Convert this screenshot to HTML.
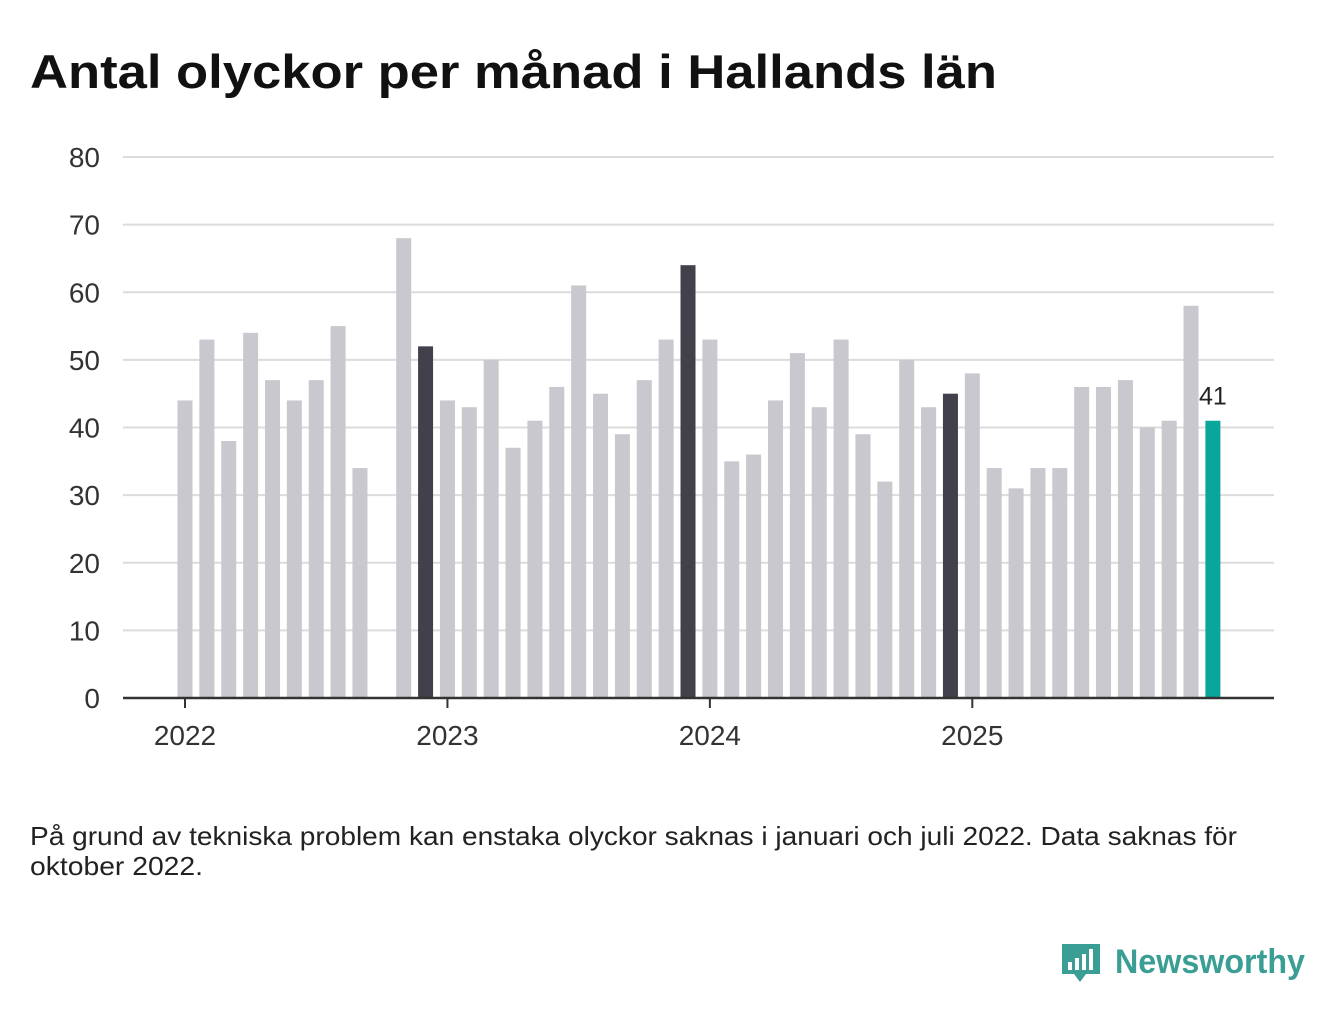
<!DOCTYPE html>
<html><head><meta charset="utf-8">
<style>
body{margin:0;background:#fff;width:1340px;height:1020px;overflow:hidden;font-family:"Liberation Sans",sans-serif;}
svg text{font-family:"Liberation Sans",sans-serif;}
</style></head>
<body>
<svg id="chart" width="1340" height="1020" viewBox="0 0 1340 1020">
<text x="30" y="88" font-size="47" font-weight="bold" fill="#111" textLength="967" lengthAdjust="spacingAndGlyphs">Antal olyckor per månad i Hallands län</text>
<g id="grid"></g>
<g id="bars"></g>
<g id="xaxis"></g>
<text x="30" y="845" font-size="26" fill="#222" textLength="1207" lengthAdjust="spacingAndGlyphs">På grund av tekniska problem kan enstaka olyckor saknas i januari och juli 2022. Data saknas för</text>
<text x="30" y="875" font-size="26" fill="#222" textLength="173" lengthAdjust="spacingAndGlyphs">oktober 2022.</text>
<g>
<path d="M1062 944 h38 v30 h-14 l-6 8 l-6 -8 h-12 z" fill="#3a9e95"/>
<rect x="1068" y="962" width="4" height="8" fill="#fff"/>
<rect x="1075" y="958" width="4" height="12" fill="#fff"/>
<rect x="1082" y="954" width="4" height="16" fill="#fff"/>
<rect x="1089" y="949" width="4" height="21" fill="#fff"/>
<text x="1115" y="973" font-size="34" font-weight="bold" fill="#3a9e95" textLength="190" lengthAdjust="spacingAndGlyphs">Newsworthy</text>
</g>
</svg>
<script>
const months = [];
for (let y = 2022; y <= 2025; y++) for (let m = 1; m <= 12; m++) months.push(y + "-" + m);
const values = [44,53,38,54,47,44,47,55,34,null,68,52,
                44,43,50,37,41,46,61,45,39,47,53,64,
                53,35,36,44,51,43,53,39,32,50,43,45,
                48,34,31,34,34,46,46,47,40,41,58,41];
const yTicks = [0,10,20,30,40,50,60,70,80];
const yearTicks = ["2022","2023","2024","2025"];

const NS = "http://www.w3.org/2000/svg";
const x0 = 185, step = 21.87, plotL = 123, plotR = 1274;
const yS = v => 698 - v * (541 / 80);
const xS = i => x0 + i * step;
function el(t, a, p) { const e = document.createElementNS(NS, t); for (const k in a) e.setAttribute(k, a[k]); p.appendChild(e); return e; }

const grid = document.getElementById("grid");
yTicks.forEach(v => {
  if (v > 0) {
    const l = el("line", {x1: plotL, x2: plotR, y1: yS(v), y2: yS(v), stroke: "#dcdcdc", "stroke-width": 2}, grid);
    
    
  }
  const t = el("text", {x: 100, y: yS(v) + 10, "font-size": 28, fill: "#333", "text-anchor": "end"}, grid);
  t.textContent = v;
  
  
});

const bars = document.getElementById("bars");
const last = values.length - 1;
values.forEach((v, i) => {
  if (v === null) return;
  const fill = i === last ? "#0aa69c" : (i % 12 === 11 ? "#41404b" : "#c8c8ce");
  const r = el("rect", {x: xS(i) - 7.5, y: yS(v), width: 15, height: yS(0) - yS(v), fill: fill}, bars);
  
  
});
const lbl = el("text", {x: xS(last), y: yS(values[last]) - 16, "font-size": 25, fill: "#222", "text-anchor": "middle"}, bars);
lbl.textContent = values[last];



const xa = document.getElementById("xaxis");
el("line", {x1: plotL, x2: plotR, y1: 698, y2: 698, stroke: "#333", "stroke-width": 2.5}, xa);
yearTicks.forEach((y, k) => {
  const x = xS(k * 12);
  el("line", {x1: x, x2: x, y1: 698, y2: 708, stroke: "#333", "stroke-width": 2}, xa);
  const t = el("text", {x: x, y: 745, "font-size": 28, fill: "#333", "text-anchor": "middle"}, xa);
  t.textContent = y;
  
  
});
</script>
</body></html>
